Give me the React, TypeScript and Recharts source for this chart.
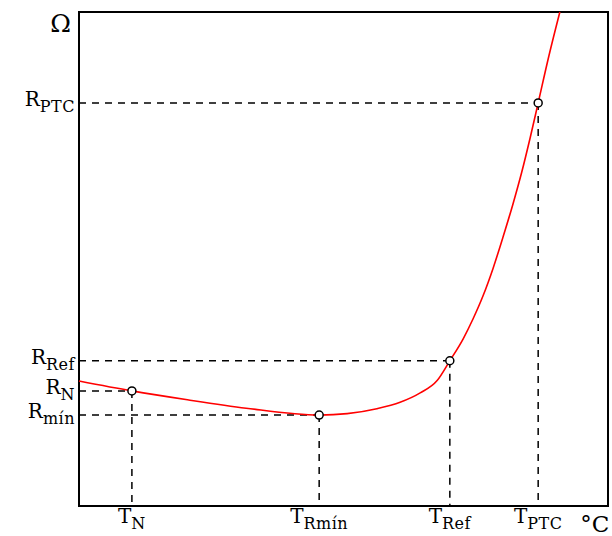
import { LineChart, Line, XAxis, YAxis, ReferenceLine, ReferenceDot, ReferenceArea } from 'recharts';

// curve (temperature 0..100, resistance 0..100, arbitrary units)
const curveT = [0, 10.0, 20.5, 31.6, 45.4, 50.7, 56.3, 60.7, 64.5, 67.7, 70.1, 72.6, 74.5, 76.4, 78.3, 80.2, 82.0, 83.7, 85.3, 86.8, 88.8, 90.9];
const curveR = [25.3, 23.3, 21.5, 19.8, 18.4, 18.7, 19.7, 21.0, 22.9, 25.4, 29.4, 33.8, 37.9, 42.6, 48.2, 54.6, 61.0, 67.6, 74.6, 81.6, 91.0, 100];

// marked points: T_x / R_x
const pointNames = ['N', 'Rmín', 'Ref', 'PTC'];
const pointT = [10.0, 45.4, 70.1, 86.8];
const pointR = [23.3, 18.4, 29.4, 81.6];

// axis labels
const rTicks = [81.6, 29.4, 23.3, 18.4];
const rSubs = ['PTC', 'Ref', 'N', 'mín'];
const tTicks = [10.0, 45.4, 70.1, 86.8];
const tSubs = ['N', 'Rmín', 'Ref', 'PTC'];
const unitR = 'Ω';
const unitT = '°C';
const unitTPos = 97.5;

const FONT = 'DejaVu Serif';

const data = curveT.map((t, i) => ({ t, r: curveR[i] }));

function YTick(props: any) {
  const { x, y, payload } = props;
  if (payload.value === 100) {
    return (
      <text x={x - 4} y={y + 20} textAnchor='end' fontFamily={FONT} fontSize={25} fill='#000'>
        {unitR}
      </text>
    );
  }
  const i = rTicks.indexOf(payload.value);
  return (
    <text x={x} y={y + 3} textAnchor='end' fontFamily={FONT} fill='#000'>
      <tspan fontSize={20}>R</tspan>
      <tspan fontSize={16} dy={6} letterSpacing={0.5}>{rSubs[i]}</tspan>
    </text>
  );
}

function XTick(props: any) {
  const { x, y, payload } = props;
  if (payload.value === unitTPos) {
    return (
      <text x={x} y={y + 22} textAnchor='middle' fontFamily={FONT} fontSize={23} fill='#000'>
        {unitT}
      </text>
    );
  }
  const i = tTicks.indexOf(payload.value);
  return (
    <text x={x} y={y + 13} textAnchor='middle' fontFamily={FONT} fill='#000'>
      <tspan fontSize={20}>T</tspan>
      <tspan fontSize={16} dy={6} letterSpacing={0.5}>{tSubs[i]}</tspan>
    </text>
  );
}

export default function App() {
  return (
    <div style={{ position: 'absolute', left: 0, top: 0, width: 612, height: 536, background: '#fff' }}>
      <LineChart width={612} height={536} data={data} margin={{ top: 12, right: 4, bottom: 0, left: 0 }}>
        <XAxis
          dataKey='t'
          type='number'
          domain={[0, 100]}
          ticks={[...tTicks, unitTPos]}
          interval={0}
          axisLine={false}
          tickLine={false}
          tickSize={0}
          tickMargin={4}
          height={30}
          tick={<XTick />}
        />
        <YAxis
          type='number'
          domain={[0, 100]}
          ticks={[...rTicks, 100]}
          interval={0}
          axisLine={false}
          tickLine={false}
          tickSize={0}
          tickMargin={4}
          width={79}
          tick={<YTick />}
        />
        <ReferenceArea x1={0} x2={100} y1={0} y2={100} fill='none' stroke='#000' strokeWidth={2} />
        {pointNames.map((n, i) => (
          <ReferenceLine
            key={'h' + n}
            segment={[{ x: 0, y: pointR[i] }, { x: pointT[i], y: pointR[i] }]}
            stroke='#000'
            strokeWidth={1.5}
            strokeDasharray='7 6'
          />
        ))}
        {pointNames.map((n, i) => (
          <ReferenceLine
            key={'v' + n}
            segment={[{ x: pointT[i], y: pointR[i] }, { x: pointT[i], y: 0 }]}
            stroke='#000'
            strokeWidth={1.5}
            strokeDasharray='7 6'
          />
        ))}
        <Line
          dataKey='r'
          type='monotone'
          stroke='#ff0000'
          strokeWidth={1.6}
          dot={false}
          isAnimationActive={false}
        />
        {pointNames.map((n, i) => (
          <ReferenceDot key={'d' + n} x={pointT[i]} y={pointR[i]} r={4} fill='#fff' stroke='#000' strokeWidth={1.5} />
        ))}
      </LineChart>
    </div>
  );
}
